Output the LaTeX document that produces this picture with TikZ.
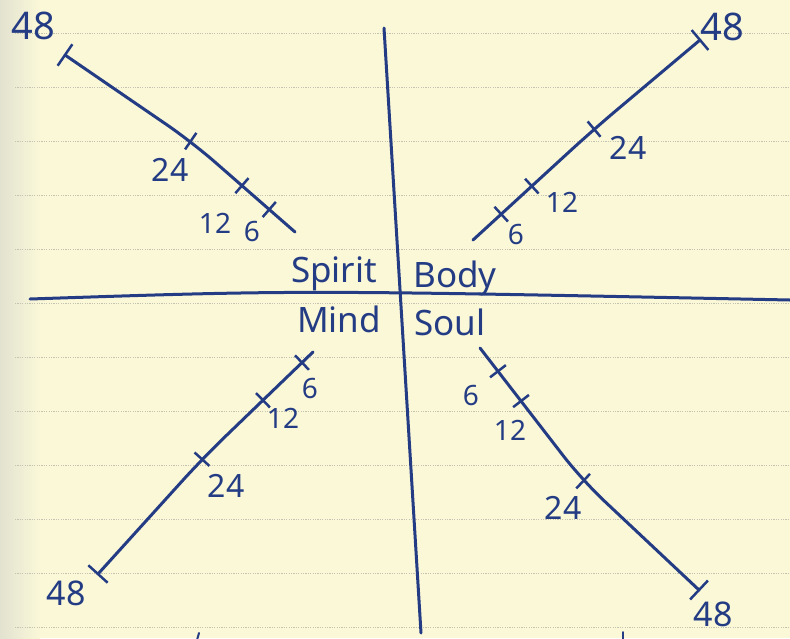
\documentclass[tikz,border=0pt]{standalone}
\usepackage{fontspec}
\setmainfont{Noto Sans}
\usetikzlibrary{calc}
\definecolor{paper}{RGB}{251,248,216}
\definecolor{paperedge}{RGB}{226,226,208}
\definecolor{rulecol}{RGB}{196,194,176}
\definecolor{ink}{RGB}{36,60,132}
\begin{document}
\begin{tikzpicture}[x=1pt,y=-1pt,
  inkline/.style={draw=ink, line width=3pt, line cap=round, line join=round},
  tickmark/.style={draw=ink, line width=2.5pt, rectangle, minimum width=0pt,
    minimum height=20pt, inner sep=0pt, outer sep=0pt, sloped},
  endmark/.style={tickmark, minimum height=26pt},
  hand/.style={text=ink, inner sep=0pt, font=\fontsize{#1}{#1}\selectfont},
  hand/.default=30,
  rulel/.style={draw=rulecol, line width=0.9pt, dash pattern=on 1.2pt off 1.2pt}]
\useasboundingbox (0,0) rectangle (790,638);
% paper
\fill[paper] (0,0) rectangle (790,638);
\shade[left color=paperedge, right color=paper] (0,0) rectangle (40,638);
\foreach \k in {0,...,11} \draw[rulel] (15,{33+54*\k}) -- (790,{33+54*\k});

% axes
\coordinate (vT) at (384,28);
\coordinate (vB) at (421,633);
\coordinate (hL) at (30,299);
\coordinate (hR) at (790,300);
\draw[inkline] (vT) -- (vB);
\draw[inkline] (hL) .. controls (300,290) .. (hR);

% quadrant words
\node[hand=35, anchor=base] (spirit) at (334,282) {Spirit};
\node[hand=35, anchor=base] (body) at (455,287) {Body};
\node[hand=35, anchor=base] (mind) at (339,332) {Mind};
\node[hand=35, anchor=base] (soul) at (450,335) {Soul};

% upper left ray
\coordinate (ulI) at (295,232);
\coordinate (ulK) at (192,142);
\coordinate (ulO) at (65,55);
\draw[inkline, rounded corners=30pt] (ulI) -- (ulK) -- (ulO);
\path (ulI) -- (ulK) node[tickmark, pos=0.25] (ul6) {} node[tickmark, pos=0.515] (ul12) {};
\path (ulK) -- (ulO) node[tickmark, pos=0.01] (ul24) {} node[endmark, pos=1] (ul48) {};
\node[hand=38] (ul48t) at (33,26) {48};
\node[hand=32] (ul24t) at (170,170) {24};
\node[hand=28] (ul12t) at (215,223) {12};
\node[hand=28] (ul6t) at (252,231) {6};

% upper right ray
\coordinate (urI) at (473,240);
\coordinate (urK) at (593,130);
\coordinate (urO) at (700,40);
\draw[inkline, rounded corners=30pt] (urI) -- (urK) -- (urO);
\path (urI) -- (urK) node[tickmark, pos=0.235] (ur6) {} node[tickmark, pos=0.49] (ur12) {};
\path (urK) -- (urO) node[tickmark, pos=0.01] (ur24) {} node[endmark, pos=1] (ur48) {};
\node[hand=38] (ur48t) at (722,27) {48};
\node[hand=32] (ur24t) at (628,148) {24};
\node[hand=28] (ur12t) at (562,202) {12};
\node[hand=28] (ur6t) at (516,234) {6};

% lower left ray
\coordinate (llI) at (313,352);
\coordinate (llK) at (203,458);
\coordinate (llO) at (98,574);
\draw[inkline, rounded corners=30pt] (llI) -- (llK) -- (llO);
\path (llI) -- (llK) node[tickmark, pos=0.1] (ll6) {} node[tickmark, pos=0.455] (ll12) {};
\path (llK) -- (llO) node[tickmark, pos=0.01] (ll24) {} node[endmark, pos=1] (ll48) {};
\node[hand=34] (ll48t) at (66,593) {48};
\node[hand=32] (ll24t) at (226,486) {24};
\node[hand=28] (ll12t) at (283,418) {12};
\node[hand=28] (ll6t) at (310,388) {6};

% lower right ray
\coordinate (lrI) at (480,348);
\coordinate (lrK) at (582,480);
\coordinate (lrO) at (699,590);
\draw[inkline, rounded corners=30pt] (lrI) -- (lrK) -- (lrO);
\path (lrI) -- (lrK) node[tickmark, pos=0.176] (lr6) {} node[tickmark, pos=0.402] (lr12) {};
\path (lrK) -- (lrO) node[tickmark, pos=0.01] (lr24) {} node[endmark, pos=1] (lr48) {};
\node[hand=34] (lr48t) at (713,614) {48};
\node[hand=32] (lr24t) at (563,508) {24};
\node[hand=28] (lr12t) at (510,430) {12};
\node[hand=28] (lr6t) at (471,395) {6};

% fragments of the next line of writing at the bottom edge
\draw[inkline, line width=2pt] (199,633) -- (197,640);
\draw[inkline, line width=2pt] (623,632) -- (623,640);
\end{tikzpicture}
\end{document}
